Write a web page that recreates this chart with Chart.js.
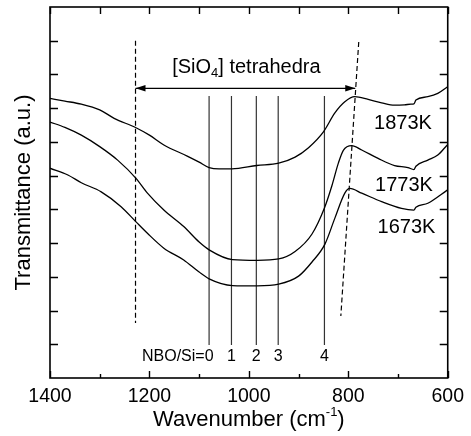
<!DOCTYPE html>
<html><head><meta charset="utf-8">
<script src="https://cdn.jsdelivr.net/npm/chart.js@4.4.1/dist/chart.umd.min.js"></script>
<style>html,body{margin:0;padding:0;background:#fff}canvas{display:block}</style>
</head><body>
<canvas id="c" width="471" height="436"></canvas>
<script>
// ---- data (wavenumber in cm^-1, transmittance in arbitrary units) ----
const w1873 = [1400,1370,1337,1300,1271,1227,1200,1171,1124,1100,1080,1060,1034,984,940,907,880,850,827,807,787,760,733,707,687,674,668,664,640,620,601];
const t1873 = [82.9,82.1,81.2,79.5,77.0,74.2,72.0,69.1,65.8,64.0,62.4,62.0,62.0,63.0,63.7,65.5,68.3,73.0,78.6,81.9,83.4,82.6,81.6,80.9,81.0,81.2,81.3,82.4,83.4,84.4,86.3];

const w1773 = [1400,1370,1337,1300,1264,1227,1204,1171,1131,1100,1080,1033,983,940,907,873,848,833,820,810,793,773,740,707,680,668,664,640,620,601];
const t1773 = [75.9,74.3,72.0,68.6,64.6,59.2,54.8,49.8,44.9,40.3,38.0,35.1,34.9,35.3,37.5,42.7,50.4,57.0,63.7,67.5,68.9,67.6,65.1,63.0,62.4,61.8,62.8,64.6,66.1,69.1];

const w1673 = [1400,1364,1337,1297,1257,1227,1204,1171,1131,1100,1080,1033,983,940,900,873,847,827,807,797,773,733,693,668,664,640,601];
const t1673 = [62.2,60.2,57.9,55.2,50.8,46.3,42.9,38.5,35.0,31.4,29.4,27.4,27.3,27.8,30.2,34.4,39.7,47.4,54.8,56.2,54.8,52.3,50.3,49.8,50.6,51.8,55.7];

const seriesNames = ['1873K','1773K','1673K'];
const seriesLabelPos = [[690,75.6],[688,57.2],[683,44.6]];

const nboPositions = [1080,1035,985,941,848];
const nboLabels = ['NBO/Si=0','1','2','3','4'];
const nboLineRange = [83.6, 9.8];
const nboLabelY = 6.3;

const leftDashX = [1228,1228], leftDashY = [100,16.3];
const rightDashX = [779,815], rightDashY = [99.6,18.4];
const arrowX = [1228,786], arrowY = 85.9;
const tetraLabelPos = [1005, 90.3];

const xTicks = [1400,1200,1000,800,600];
const FONT = "'Liberation Sans', Arial, Helvetica, sans-serif";

function pts(xs, ys){ return xs.map((x,i)=>({x:x, y:ys[i]})); }

const curveStyle = {borderColor:'#000', borderWidth:1.3, pointRadius:0, cubicInterpolationMode:'monotone', fill:false};
const datasets = [
  Object.assign({data:pts(w1873,t1873)}, curveStyle),
  Object.assign({data:pts(w1773,t1773)}, curveStyle),
  Object.assign({data:pts(w1673,t1673)}, curveStyle),
];
nboPositions.forEach(p=>{
  datasets.push({data:pts([p,p], nboLineRange), borderColor:'#333', borderWidth:1.2, pointRadius:0, tension:0});
});
datasets.push({data:pts(leftDashX,leftDashY), borderColor:'#000', borderWidth:1.2, borderDash:[5,3], pointRadius:0, tension:0});
datasets.push({data:pts(rightDashX,rightDashY), borderColor:'#000', borderWidth:1.2, borderDash:[5,3], pointRadius:0, tension:0});
datasets.push({data:pts(arrowX,[arrowY,arrowY]), borderColor:'#000', borderWidth:1.2, pointRadius:0, tension:0});

const decor = {
  id:'decor',
  afterDatasetsDraw(chart){
    const ctx = chart.ctx, xs = chart.scales.x, ys = chart.scales.y, ca = chart.chartArea;
    ctx.save();
    ctx.strokeStyle = '#000'; ctx.fillStyle = '#000';
    // frame
    ctx.lineWidth = 1.6;
    ctx.strokeRect(ca.left, ca.top, ca.right-ca.left, ca.bottom-ca.top);
    // ticks
    ctx.lineWidth = 1.4;
    ctx.beginPath();
    for (let w=600; w<=1400; w+=100){
      const px = Math.round(xs.getPixelForValue(w))+0.5;
      const major = (w%200===0);
      ctx.moveTo(px, ca.bottom); ctx.lineTo(px, ca.bottom-(major?7:4));
      ctx.moveTo(px, ca.top); ctx.lineTo(px, ca.top+7);
    }
    for (let v=10; v<=100; v+=10){
      const py = Math.round(ys.getPixelForValue(v))+0.5;
      ctx.moveTo(ca.left, py); ctx.lineTo(ca.left+8, py);
      ctx.moveTo(ca.right, py); ctx.lineTo(ca.right-8, py);
    }
    ctx.stroke();
    // arrow heads
    const ay = ys.getPixelForValue(arrowY);
    const axL = xs.getPixelForValue(arrowX[0]), axR = xs.getPixelForValue(arrowX[1]);
    ctx.beginPath(); ctx.moveTo(axL, ay); ctx.lineTo(axL+10, ay-3.2); ctx.lineTo(axL+10, ay+3.2); ctx.closePath(); ctx.fill();
    ctx.beginPath(); ctx.moveTo(axR, ay); ctx.lineTo(axR-10, ay-3.2); ctx.lineTo(axR-10, ay+3.2); ctx.closePath(); ctx.fill();
    // tetrahedra label with subscript
    const tx = xs.getPixelForValue(tetraLabelPos[0]), ty = ys.getPixelForValue(tetraLabelPos[1]);
    const f20 = '20px ' + FONT, f13 = '13px ' + FONT;
    ctx.textBaseline = 'alphabetic'; ctx.textAlign = 'left';
    ctx.font = f20; const a = '[SiO', c = '] tetrahedra';
    const wa = ctx.measureText(a).width, wc = ctx.measureText(c).width;
    ctx.font = f13; const wb = ctx.measureText('4').width;
    let sx = tx - (wa+wb+wc)/2;
    ctx.font = f20; ctx.fillText(a, sx, ty); sx += wa;
    ctx.font = f13; ctx.fillText('4', sx, ty+4); sx += wb;
    ctx.font = f20; ctx.fillText(c, sx, ty);
    // series labels
    ctx.textBaseline = 'middle'; ctx.textAlign = 'center'; ctx.font = f20;
    seriesNames.forEach((n,i)=>{
      ctx.fillText(n, xs.getPixelForValue(seriesLabelPos[i][0]), ys.getPixelForValue(seriesLabelPos[i][1]));
    });
    // NBO labels
    ctx.font = '16px ' + FONT;
    const ny = ys.getPixelForValue(nboLabelY);
    nboLabels.forEach((l,i)=>{
      const px = xs.getPixelForValue(nboPositions[i]);
      if (i===0){
        const wz = ctx.measureText('0').width;
        ctx.textAlign = 'right'; ctx.fillText(l, px + wz/2, ny);
      } else { ctx.textAlign = 'center'; ctx.fillText(l, px, ny); }
    });
    // x axis title with superscript
    ctx.textAlign = 'left'; ctx.textBaseline = 'alphabetic';
    const f22 = '22px ' + FONT;
    ctx.font = f22; const t1 = 'Wavenumber (cm', t3 = ')';
    const w1 = ctx.measureText(t1).width, w3 = ctx.measureText(t3).width;
    ctx.font = f13; const w2 = ctx.measureText('-1').width;
    const cx = (ca.left+ca.right)/2; let x0 = cx - (w1+w2+w3)/2; const by = 426;
    ctx.font = f22; ctx.fillText(t1, x0, by); x0 += w1;
    ctx.font = f13; ctx.fillText('-1', x0, by-10); x0 += w2;
    ctx.font = f22; ctx.fillText(t3, x0, by);
    ctx.restore();
  }
};

new Chart(document.getElementById('c').getContext('2d'), {
  type:'line',
  data:{datasets:datasets},
  options:{
    responsive:false, animation:false, devicePixelRatio:1,
    layout:{padding:{top:7,right:21,left:0,bottom:0}},
    plugins:{legend:{display:false}, tooltip:{enabled:false}},
    elements:{point:{radius:0}},
    scales:{
      x:{type:'linear', reverse:true, min:600, max:1400,
         grid:{display:false, drawTicks:false}, border:{display:false},
         afterBuildTicks(s){ s.ticks = xTicks.map(v=>({value:v})); },
         ticks:{color:'#000', font:{family:FONT, size:19.5}, padding:7, maxRotation:0, autoSkip:false,
                callback:(v)=>String(v)},
         afterFit(s){ s.height = 58; }},
      y:{type:'linear', min:0, max:110,
         grid:{display:false, drawTicks:false}, border:{display:false},
         ticks:{display:false, stepSize:10},
         title:{display:true, text:'Transmittance (a.u.)', color:'#000', font:{family:FONT, size:22}, padding:{top:11,bottom:0}},
         afterFit(s){ s.width = 50; }}
    }
  },
  plugins:[decor]
});
</script>
</body></html>
